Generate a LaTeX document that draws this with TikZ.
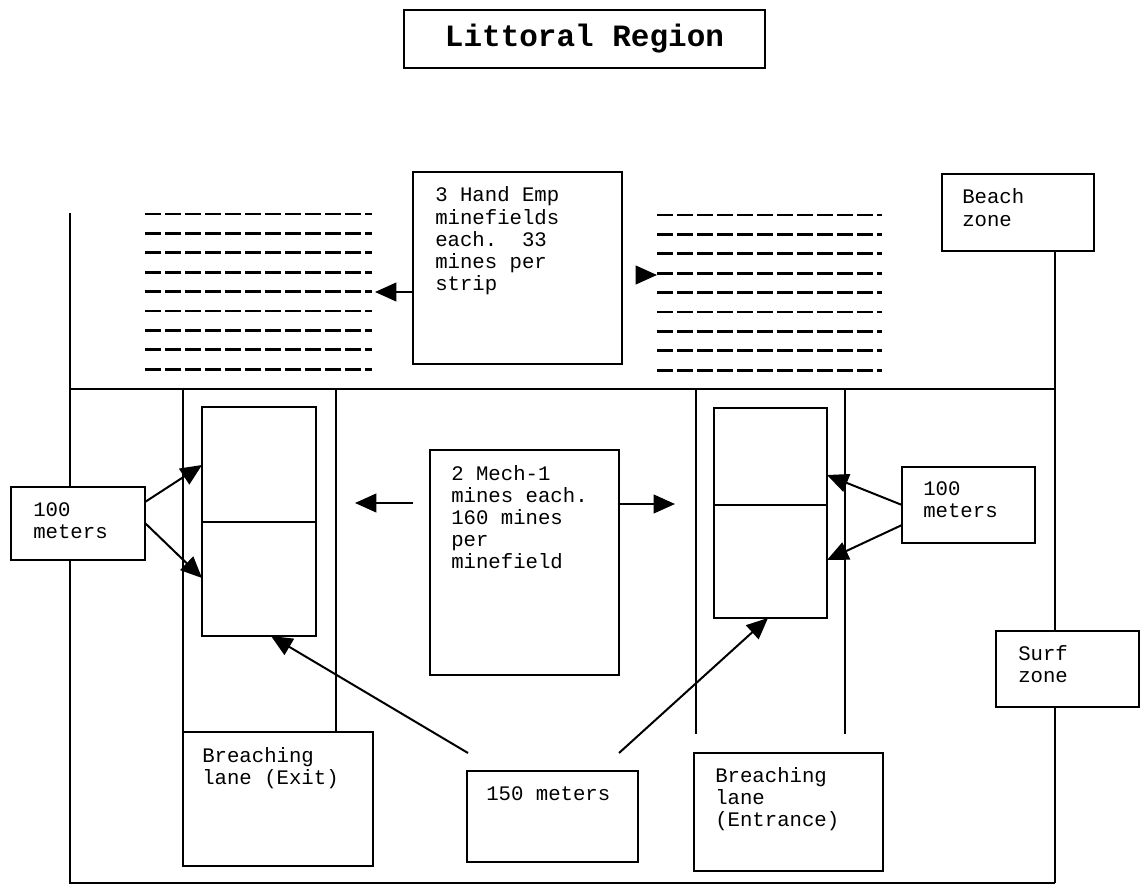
\documentclass[tikz,border=0pt]{standalone}
\usepackage{fontspec}
\setmonofont{Liberation Mono}
\usetikzlibrary{arrows.meta}
\begin{document}
\frenchspacing
\begin{tikzpicture}[x=0.75pt,y=-0.75pt,
  ln/.style={line width=1.5pt},
  bx/.style={draw, fill=white, line width=1.5pt, inner sep=0pt, outer sep=0pt, anchor=north west},
  tx/.style={anchor=base west, inner sep=0pt, font=\ttfamily\fontsize{15.5pt}{16.6pt}\selectfont},
  arr/.style={line width=1.5pt, -{Triangle[length=16pt,width=14pt]}},
  dsh/.style={line width=2pt, dash pattern=on 12pt off 3pt}]
\useasboundingbox (0,0) rectangle (1141,884);

% title
\node[bx, minimum width=270.75pt, minimum height=43.5pt,
      font=\ttfamily\bfseries\fontsize{23.25pt}{26pt}\selectfont] (title) at (404,10) {Littoral Region};

% frame lines
\draw[ln] (70,213) -- (70,883) -- (1055,883);
\draw[ln] (70,389) -- (1055,389);

% boxes
\node[bx, minimum width=156.75pt, minimum height=144pt] (hand) at (413,172) {};
\node[bx, minimum width=114pt, minimum height=57.75pt] (beach) at (942,174) {};
\node[bx, minimum width=107.25pt, minimum height=57pt] (surf) at (996,631) {};
\node[bx, minimum width=100.5pt, minimum height=54.75pt] (mlft) at (11,487) {};
\node[bx, minimum width=99.75pt, minimum height=57pt] (mrgt) at (902,467) {};
\node[bx, minimum width=141.75pt, minimum height=168.75pt] (mech) at (430,450) {};
\node[bx, minimum width=142.5pt, minimum height=100.5pt] (exit) at (183,732) {};
\node[bx, minimum width=141.75pt, minimum height=88.5pt] (ent) at (694,753) {};
\node[bx, minimum width=128.25pt, minimum height=68.25pt] (mfifty) at (467,771) {};
\node[bx, minimum width=85.5pt, minimum height=86.25pt] (ilt) at (202,407) {};
\node[bx, minimum width=85.5pt, minimum height=85.5pt] (ilb) at (202,522) {};
\node[bx, minimum width=84.75pt, minimum height=72.75pt] (irt) at (714,408) {};
\node[bx, minimum width=84.75pt, minimum height=84.75pt] (irb) at (714,505) {};

% right frame line through the zone boxes
\draw[ln] (beach.south -| 1055,0) -- (surf.north -| 1055,0);
\draw[ln] (surf.south -| 1055,0) -- (1055,883);

% lane lines
\draw[ln] (exit.north west |- 0,389) -- (exit.north west);
\draw[ln] (336,389) -- (336,732);
\draw[ln] (696,389) -- (696,734);
\draw[ln] (845,389) -- (845,734);

% minefield strips
\foreach \i in {0,...,8}{
  \draw[dsh] (145,{214+19.4*\i}) -- (372,{214+19.4*\i});
  \draw[dsh] (657,{215+19.4*\i}) -- (882,{215+19.4*\i});
}

% texts
\node[tx] (thand) at (435,202) {\parbox[t]{6cm}{\raggedright 3 Hand Emp\\minefields\\each.~~33\\mines per\\strip}};
\node[tx] (tmech) at (451,480) {\parbox[t]{6cm}{\raggedright 2 Mech-1\\mines each.\\160 mines\\per\\minefield}};
\node[tx] (tmlft) at (33,516) {\parbox[t]{6cm}{\raggedright 100\\meters}};
\node[tx] (tmrgt) at (923,495) {\parbox[t]{6cm}{\raggedright 100\\meters}};
\node[tx] (tbeach) at (962,204) {\parbox[t]{6cm}{\raggedright Beach\\zone}};
\node[tx] (tsurf) at (1018,660) {\parbox[t]{6cm}{\raggedright Surf\\zone}};
\node[tx] (texit) at (202,762) {\parbox[t]{6cm}{\raggedright Breaching\\lane (Exit)}};
\node[tx] (tent) at (715,782) {\parbox[t]{6cm}{\raggedright Breaching\\lane\\(Entrance)}};
\node[tx] (tfifty) at (486,800) {150 meters};

% connectors
\coordinate (lt) at (375,292);
\draw[arr] (hand.west |- lt) -- (lt);
\coordinate (rt) at (657,275);
\draw[arr, shorten <=11.25pt] (hand.east |- rt) -- (rt);
\coordinate (ml) at (355,503);
\draw[arr, shorten <=12.75pt] (mech.west |- ml) -- (ml);
\coordinate (mr) at (675,504);
\draw[arr] (mech.east |- mr) -- (mr);

\draw[arr] (mlft.east |- 0,502) -- (ilt.west |- 0,465);
\draw[arr] (mlft.east |- 0,523) -- (ilb.west |- 0,578);
\draw[arr] (mrgt.west |- 0,505) -- (irt.east |- 0,475);
\draw[arr] (mrgt.west |- 0,525) -- (irb.east |- 0,560);

\coordinate (sa) at (468,753);
\coordinate (sb) at (619,753);
\draw[arr] (sa) -- (ilb.south -| 271,0);
\draw[arr] (sb) -- (irb.south -| 768,0);
\end{tikzpicture}
\end{document}
